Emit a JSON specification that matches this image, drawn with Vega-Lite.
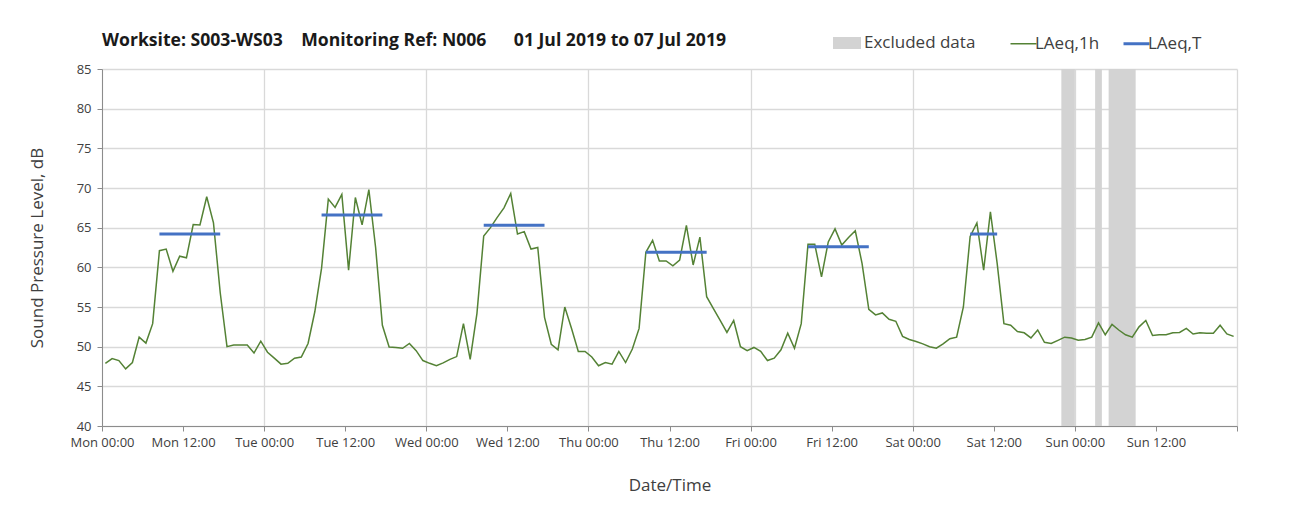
{
  "$schema": "https://vega.github.io/schema/vega-lite/v6.json",
  "width": 1301,
  "height": 522,
  "autosize": {"type": "fit", "contains": "padding"},
  "padding": {"left": 28, "top": 32, "right": 63, "bottom": 29},
  "background": "white",
  "title": {
    "text": "Worksite: S003-WS03\u00a0\u00a0\u00a0\u00a0Monitoring Ref: N006\u00a0\u00a0\u00a0\u00a0\u00a0\u00a001 Jul 2019 to 07 Jul 2019",
    "anchor": "start",
    "frame": "group",
    "font": "Open Sans",
    "fontSize": 17.6,
    "fontWeight": "bold",
    "color": "#1a1a1a",
    "offset": 13
  },
  "config": {
    "view": {"stroke": null},
    "axis": {
      "domainColor": "#8c8c8c",
      "tickColor": "#8c8c8c",
      "gridColor": "#d9d9d9",
      "gridWidth": 1.3,
      "labelColor": "#404040",
      "labelFont": "Open Sans",
      "labelFontSize": 13,
      "titleFont": "Open Sans",
      "titleFontSize": 17,
      "titleFontWeight": "normal",
      "titleColor": "#404040",
      "tickSize": 5
    },
    "legend": {
      "labelFont": "Open Sans",
      "labelFontSize": 17,
      "labelColor": "#404040",
      "padding": 0
    }
  },
  "layer": [
    {
      "data": {"values": [
        {"start": "2019-07-06T22:00:00Z", "end": "2019-07-07T00:00:00Z"},
        {"start": "2019-07-07T03:00:00Z", "end": "2019-07-07T04:00:00Z"},
        {"start": "2019-07-07T05:00:00Z", "end": "2019-07-07T09:00:00Z"}
      ]},
      "mark": {"type": "rect"},
      "encoding": {
        "x": {
          "field": "start",
          "type": "temporal",
          "scale": {
            "type": "utc",
            "domain": [
              {"year": 2019, "month": 7, "date": 1, "utc": true},
              {"year": 2019, "month": 7, "date": 8, "utc": true}
            ],
            "nice": false
          },
          "axis": {
            "title": "Date/Time",
            "values": [
              {"year": 2019, "month": 7, "date": 1, "hours": 0, "utc": true},
              {"year": 2019, "month": 7, "date": 1, "hours": 12, "utc": true},
              {"year": 2019, "month": 7, "date": 2, "hours": 0, "utc": true},
              {"year": 2019, "month": 7, "date": 2, "hours": 12, "utc": true},
              {"year": 2019, "month": 7, "date": 3, "hours": 0, "utc": true},
              {"year": 2019, "month": 7, "date": 3, "hours": 12, "utc": true},
              {"year": 2019, "month": 7, "date": 4, "hours": 0, "utc": true},
              {"year": 2019, "month": 7, "date": 4, "hours": 12, "utc": true},
              {"year": 2019, "month": 7, "date": 5, "hours": 0, "utc": true},
              {"year": 2019, "month": 7, "date": 5, "hours": 12, "utc": true},
              {"year": 2019, "month": 7, "date": 6, "hours": 0, "utc": true},
              {"year": 2019, "month": 7, "date": 6, "hours": 12, "utc": true},
              {"year": 2019, "month": 7, "date": 7, "hours": 0, "utc": true},
              {"year": 2019, "month": 7, "date": 7, "hours": 12, "utc": true},
              {"year": 2019, "month": 7, "date": 8, "hours": 0, "utc": true}
            ],
            "format": "%a %H:%M",
            "labelExpr": "datum.value > 1562540000000 ? '' : datum.label",
            "labelOverlap": false,
            "labelFlush": false,
            "labelPadding": 5,
            "titlePadding": 28,
            "grid": true,
            "gridOpacity": {"condition": {"test": "utchours(datum.value) == 12", "value": 0}, "value": 1}
          }
        },
        "x2": {"field": "end"},
        "fill": {
          "datum": "Excluded data",
          "scale": {"domain": ["Excluded data"], "range": ["#d3d3d3"]},
          "legend": {
            "title": null,
            "orient": "none",
            "legendX": 731,
            "legendY": -40,
            "symbolType": "M-1,-0.43H1V0.43H-1Z",
            "symbolSize": 784,
            "symbolStrokeWidth": 0,
            "symbolOpacity": 1,
            "labelOffset": 3
          }
        }
      }
    },
    {
      "data": {"values": [
        {"t": "2019-07-01T00:30:00Z", "v": 47.9},
        {"t": "2019-07-01T01:30:00Z", "v": 48.5},
        {"t": "2019-07-01T02:30:00Z", "v": 48.25},
        {"t": "2019-07-01T03:30:00Z", "v": 47.2},
        {"t": "2019-07-01T04:30:00Z", "v": 48.0},
        {"t": "2019-07-01T05:30:00Z", "v": 51.2},
        {"t": "2019-07-01T06:30:00Z", "v": 50.45},
        {"t": "2019-07-01T07:30:00Z", "v": 52.9},
        {"t": "2019-07-01T08:30:00Z", "v": 62.1},
        {"t": "2019-07-01T09:30:00Z", "v": 62.3},
        {"t": "2019-07-01T10:30:00Z", "v": 59.5},
        {"t": "2019-07-01T11:30:00Z", "v": 61.4},
        {"t": "2019-07-01T12:30:00Z", "v": 61.2},
        {"t": "2019-07-01T13:30:00Z", "v": 65.4},
        {"t": "2019-07-01T14:30:00Z", "v": 65.35},
        {"t": "2019-07-01T15:30:00Z", "v": 68.9},
        {"t": "2019-07-01T16:30:00Z", "v": 65.6},
        {"t": "2019-07-01T17:30:00Z", "v": 56.8},
        {"t": "2019-07-01T18:30:00Z", "v": 50.0},
        {"t": "2019-07-01T19:30:00Z", "v": 50.2},
        {"t": "2019-07-01T20:30:00Z", "v": 50.2},
        {"t": "2019-07-01T21:30:00Z", "v": 50.2},
        {"t": "2019-07-01T22:30:00Z", "v": 49.2},
        {"t": "2019-07-01T23:30:00Z", "v": 50.7},
        {"t": "2019-07-02T00:30:00Z", "v": 49.3},
        {"t": "2019-07-02T01:30:00Z", "v": 48.55},
        {"t": "2019-07-02T02:30:00Z", "v": 47.8},
        {"t": "2019-07-02T03:30:00Z", "v": 47.9},
        {"t": "2019-07-02T04:30:00Z", "v": 48.55},
        {"t": "2019-07-02T05:30:00Z", "v": 48.7},
        {"t": "2019-07-02T06:30:00Z", "v": 50.4},
        {"t": "2019-07-02T07:30:00Z", "v": 54.4},
        {"t": "2019-07-02T08:30:00Z", "v": 59.9},
        {"t": "2019-07-02T09:30:00Z", "v": 68.6},
        {"t": "2019-07-02T10:30:00Z", "v": 67.55},
        {"t": "2019-07-02T11:30:00Z", "v": 69.2},
        {"t": "2019-07-02T12:30:00Z", "v": 59.65},
        {"t": "2019-07-02T13:30:00Z", "v": 68.8},
        {"t": "2019-07-02T14:30:00Z", "v": 65.35},
        {"t": "2019-07-02T15:30:00Z", "v": 69.8},
        {"t": "2019-07-02T16:30:00Z", "v": 62.5},
        {"t": "2019-07-02T17:30:00Z", "v": 52.7},
        {"t": "2019-07-02T18:30:00Z", "v": 49.95},
        {"t": "2019-07-02T19:30:00Z", "v": 49.9},
        {"t": "2019-07-02T20:30:00Z", "v": 49.8},
        {"t": "2019-07-02T21:30:00Z", "v": 50.4},
        {"t": "2019-07-02T22:30:00Z", "v": 49.5},
        {"t": "2019-07-02T23:30:00Z", "v": 48.25},
        {"t": "2019-07-03T00:30:00Z", "v": 47.9},
        {"t": "2019-07-03T01:30:00Z", "v": 47.6},
        {"t": "2019-07-03T02:30:00Z", "v": 47.95},
        {"t": "2019-07-03T03:30:00Z", "v": 48.4},
        {"t": "2019-07-03T04:30:00Z", "v": 48.75},
        {"t": "2019-07-03T05:30:00Z", "v": 52.9},
        {"t": "2019-07-03T06:30:00Z", "v": 48.4},
        {"t": "2019-07-03T07:30:00Z", "v": 54.2},
        {"t": "2019-07-03T08:30:00Z", "v": 63.95},
        {"t": "2019-07-03T09:30:00Z", "v": 65.0},
        {"t": "2019-07-03T10:30:00Z", "v": 66.3},
        {"t": "2019-07-03T11:30:00Z", "v": 67.5},
        {"t": "2019-07-03T12:30:00Z", "v": 69.3},
        {"t": "2019-07-03T13:30:00Z", "v": 64.2},
        {"t": "2019-07-03T14:30:00Z", "v": 64.5},
        {"t": "2019-07-03T15:30:00Z", "v": 62.3},
        {"t": "2019-07-03T16:30:00Z", "v": 62.5},
        {"t": "2019-07-03T17:30:00Z", "v": 53.7},
        {"t": "2019-07-03T18:30:00Z", "v": 50.3},
        {"t": "2019-07-03T19:30:00Z", "v": 49.6},
        {"t": "2019-07-03T20:30:00Z", "v": 55.0},
        {"t": "2019-07-03T21:30:00Z", "v": 52.3},
        {"t": "2019-07-03T22:30:00Z", "v": 49.4},
        {"t": "2019-07-03T23:30:00Z", "v": 49.4},
        {"t": "2019-07-04T00:30:00Z", "v": 48.7},
        {"t": "2019-07-04T01:30:00Z", "v": 47.6},
        {"t": "2019-07-04T02:30:00Z", "v": 48.0},
        {"t": "2019-07-04T03:30:00Z", "v": 47.8},
        {"t": "2019-07-04T04:30:00Z", "v": 49.4},
        {"t": "2019-07-04T05:30:00Z", "v": 48.0},
        {"t": "2019-07-04T06:30:00Z", "v": 49.7},
        {"t": "2019-07-04T07:30:00Z", "v": 52.3},
        {"t": "2019-07-04T08:30:00Z", "v": 61.9},
        {"t": "2019-07-04T09:30:00Z", "v": 63.4},
        {"t": "2019-07-04T10:30:00Z", "v": 60.8},
        {"t": "2019-07-04T11:30:00Z", "v": 60.8},
        {"t": "2019-07-04T12:30:00Z", "v": 60.2},
        {"t": "2019-07-04T13:30:00Z", "v": 60.9},
        {"t": "2019-07-04T14:30:00Z", "v": 65.3},
        {"t": "2019-07-04T15:30:00Z", "v": 60.3},
        {"t": "2019-07-04T16:30:00Z", "v": 63.8},
        {"t": "2019-07-04T17:30:00Z", "v": 56.3},
        {"t": "2019-07-04T18:30:00Z", "v": 54.8},
        {"t": "2019-07-04T19:30:00Z", "v": 53.3},
        {"t": "2019-07-04T20:30:00Z", "v": 51.8},
        {"t": "2019-07-04T21:30:00Z", "v": 53.3},
        {"t": "2019-07-04T22:30:00Z", "v": 50.0},
        {"t": "2019-07-04T23:30:00Z", "v": 49.5},
        {"t": "2019-07-05T00:30:00Z", "v": 49.9},
        {"t": "2019-07-05T01:30:00Z", "v": 49.4},
        {"t": "2019-07-05T02:30:00Z", "v": 48.25},
        {"t": "2019-07-05T03:30:00Z", "v": 48.55},
        {"t": "2019-07-05T04:30:00Z", "v": 49.6},
        {"t": "2019-07-05T05:30:00Z", "v": 51.7},
        {"t": "2019-07-05T06:30:00Z", "v": 49.8},
        {"t": "2019-07-05T07:30:00Z", "v": 52.9},
        {"t": "2019-07-05T08:30:00Z", "v": 62.9},
        {"t": "2019-07-05T09:30:00Z", "v": 62.9},
        {"t": "2019-07-05T10:30:00Z", "v": 58.8},
        {"t": "2019-07-05T11:30:00Z", "v": 63.2},
        {"t": "2019-07-05T12:30:00Z", "v": 64.85},
        {"t": "2019-07-05T13:30:00Z", "v": 62.8},
        {"t": "2019-07-05T14:30:00Z", "v": 63.75},
        {"t": "2019-07-05T15:30:00Z", "v": 64.6},
        {"t": "2019-07-05T16:30:00Z", "v": 60.5},
        {"t": "2019-07-05T17:30:00Z", "v": 54.7},
        {"t": "2019-07-05T18:30:00Z", "v": 54.0},
        {"t": "2019-07-05T19:30:00Z", "v": 54.25},
        {"t": "2019-07-05T20:30:00Z", "v": 53.45},
        {"t": "2019-07-05T21:30:00Z", "v": 53.2},
        {"t": "2019-07-05T22:30:00Z", "v": 51.3},
        {"t": "2019-07-05T23:30:00Z", "v": 50.9},
        {"t": "2019-07-06T00:30:00Z", "v": 50.65},
        {"t": "2019-07-06T01:30:00Z", "v": 50.35},
        {"t": "2019-07-06T02:30:00Z", "v": 50.0},
        {"t": "2019-07-06T03:30:00Z", "v": 49.8},
        {"t": "2019-07-06T04:30:00Z", "v": 50.35},
        {"t": "2019-07-06T05:30:00Z", "v": 51.0},
        {"t": "2019-07-06T06:30:00Z", "v": 51.2},
        {"t": "2019-07-06T07:30:00Z", "v": 55.0},
        {"t": "2019-07-06T08:30:00Z", "v": 63.9},
        {"t": "2019-07-06T09:30:00Z", "v": 65.6},
        {"t": "2019-07-06T10:30:00Z", "v": 59.65},
        {"t": "2019-07-06T11:30:00Z", "v": 67.0},
        {"t": "2019-07-06T12:30:00Z", "v": 60.5},
        {"t": "2019-07-06T13:30:00Z", "v": 52.9},
        {"t": "2019-07-06T14:30:00Z", "v": 52.7},
        {"t": "2019-07-06T15:30:00Z", "v": 51.9},
        {"t": "2019-07-06T16:30:00Z", "v": 51.75},
        {"t": "2019-07-06T17:30:00Z", "v": 51.1},
        {"t": "2019-07-06T18:30:00Z", "v": 52.1},
        {"t": "2019-07-06T19:30:00Z", "v": 50.55},
        {"t": "2019-07-06T20:30:00Z", "v": 50.4},
        {"t": "2019-07-06T21:30:00Z", "v": 50.8},
        {"t": "2019-07-06T22:30:00Z", "v": 51.2},
        {"t": "2019-07-06T23:30:00Z", "v": 51.1},
        {"t": "2019-07-07T00:30:00Z", "v": 50.8},
        {"t": "2019-07-07T01:30:00Z", "v": 50.9},
        {"t": "2019-07-07T02:30:00Z", "v": 51.2},
        {"t": "2019-07-07T03:30:00Z", "v": 53.0},
        {"t": "2019-07-07T04:30:00Z", "v": 51.5},
        {"t": "2019-07-07T05:30:00Z", "v": 52.8},
        {"t": "2019-07-07T06:30:00Z", "v": 52.1},
        {"t": "2019-07-07T07:30:00Z", "v": 51.5},
        {"t": "2019-07-07T08:30:00Z", "v": 51.2},
        {"t": "2019-07-07T09:30:00Z", "v": 52.5},
        {"t": "2019-07-07T10:30:00Z", "v": 53.3},
        {"t": "2019-07-07T11:30:00Z", "v": 51.4},
        {"t": "2019-07-07T12:30:00Z", "v": 51.5},
        {"t": "2019-07-07T13:30:00Z", "v": 51.5},
        {"t": "2019-07-07T14:30:00Z", "v": 51.75},
        {"t": "2019-07-07T15:30:00Z", "v": 51.8},
        {"t": "2019-07-07T16:30:00Z", "v": 52.3},
        {"t": "2019-07-07T17:30:00Z", "v": 51.6},
        {"t": "2019-07-07T18:30:00Z", "v": 51.75},
        {"t": "2019-07-07T19:30:00Z", "v": 51.7},
        {"t": "2019-07-07T20:30:00Z", "v": 51.7},
        {"t": "2019-07-07T21:30:00Z", "v": 52.7},
        {"t": "2019-07-07T22:30:00Z", "v": 51.6},
        {"t": "2019-07-07T23:30:00Z", "v": 51.3}
      ]},
      "mark": {"type": "line", "strokeWidth": 1.5},
      "encoding": {
        "x": {"field": "t", "type": "temporal"},
        "y": {
          "field": "v",
          "type": "quantitative",
          "scale": {"domain": [40, 85], "nice": false, "zero": false},
          "axis": {
            "title": "Sound Pressure Level, dB",
            "values": [40, 45, 50, 55, 60, 65, 70, 75, 80, 85],
            "tickCount": 10,
            "labelOverlap": false,
            "labelPadding": 6,
            "titlePadding": 30,
            "grid": true
          }
        },
        "stroke": {
          "datum": "LAeq,1h",
          "scale": {"domain": ["LAeq,1h", "LAeq,T"], "range": ["#548235", "#4472C4"]},
          "legend": {
            "title": null,
            "orient": "none",
            "legendX": 913,
            "legendY": -34,
            "direction": "horizontal",
            "symbolType": "stroke",
            "symbolSize": 676,
            "symbolStrokeWidth": 2,
            "columnPadding": 17,
            "labelOffset": 3,
            "encode": {
              "symbols": {
                "update": {
                  "strokeWidth": {"signal": "datum.value == 'LAeq,T' ? 3 : 1.5"}
                }
              }
            }
          }
        }
      }
    },
    {
      "data": {"values": [
        {"start": "2019-07-01T08:30:00Z", "end": "2019-07-01T17:30:00Z", "v": 64.2},
        {"start": "2019-07-02T08:30:00Z", "end": "2019-07-02T17:30:00Z", "v": 66.6},
        {"start": "2019-07-03T08:30:00Z", "end": "2019-07-03T17:30:00Z", "v": 65.3},
        {"start": "2019-07-04T08:30:00Z", "end": "2019-07-04T17:30:00Z", "v": 61.9},
        {"start": "2019-07-05T08:30:00Z", "end": "2019-07-05T17:30:00Z", "v": 62.6},
        {"start": "2019-07-06T08:30:00Z", "end": "2019-07-06T12:30:00Z", "v": 64.2}
      ]},
      "mark": {"type": "rule", "strokeWidth": 3},
      "encoding": {
        "x": {"field": "start", "type": "temporal"},
        "x2": {"field": "end"},
        "y": {
          "field": "v",
          "type": "quantitative",
          "axis": {
            "title": "Sound Pressure Level, dB",
            "values": [40, 45, 50, 55, 60, 65, 70, 75, 80, 85],
            "tickCount": 10,
            "labelOverlap": false,
            "labelPadding": 6,
            "titlePadding": 30,
            "grid": true
          }
        },
        "stroke": {"datum": "LAeq,T"}
      }
    }
  ]
}
